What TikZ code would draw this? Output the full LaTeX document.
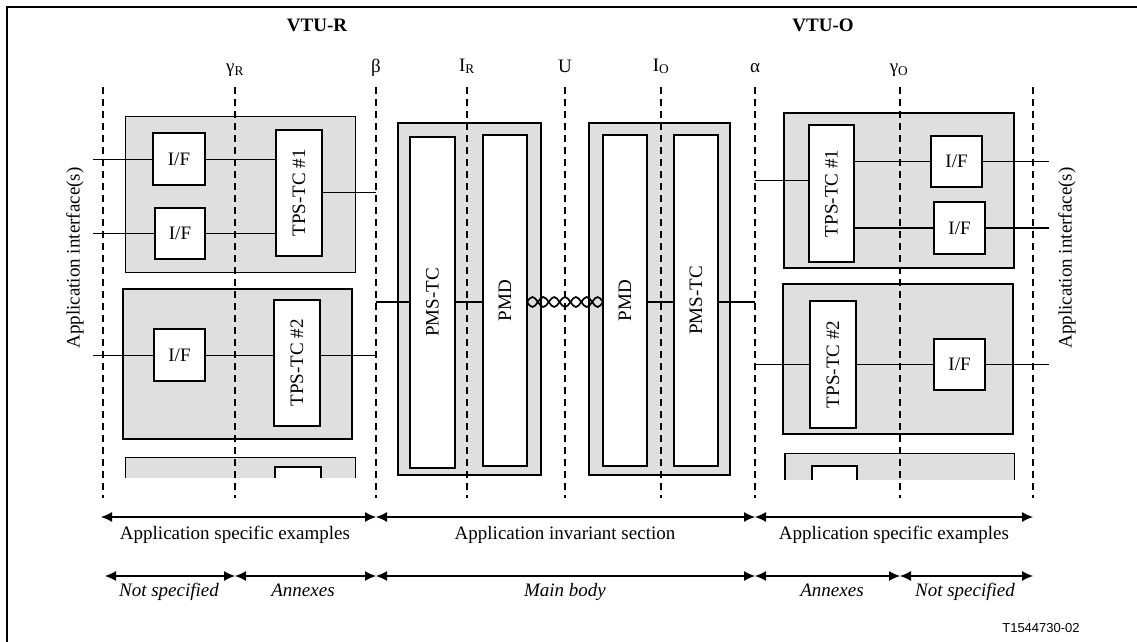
\documentclass[tikz,border=0pt]{standalone}
\usepackage{fontspec}
\setmainfont{Liberation Serif}
\newfontfamily\sansf{Liberation Sans}
\usetikzlibrary{arrows.meta}
\definecolor{boxgray}{HTML}{DFDFDF}
\newcommand\rbox[7]{\node[#1, minimum width={(#5)-(#3)}, minimum height={(#6)-(#4)}] (#2) at ({((#3)+(#5))/2},{((#4)+(#6))/2}) {#7};}
\begin{document}
\begin{tikzpicture}[x=1pt,y=-1pt,
  font=\fontsize{19}{21}\selectfont,
  gbox/.style={draw, fill=boxgray, line width=0.8pt, inner sep=0pt, outer sep=0pt},
  gboxthick/.style={gbox, line width=2.2pt},
  wbox/.style={draw, fill=white, line width=2.4pt, inner sep=0pt, outer sep=0pt},
  conn/.style={line width=0.9pt},
  bus/.style={line width=2.2pt},
  refline/.style={dash pattern=on 7pt off 5pt, line width=1.1pt},
  dim/.style={line width=1.1pt, {Latex[length=11pt,width=10pt]}-{Latex[length=11pt,width=10pt]}},
  lbl/.style={anchor=base, inner sep=0pt},
  rot/.style={rotate=90, inner sep=0pt}
]
\useasboundingbox (0,0) rectangle (1137,642);
% frame
\draw[line width=1.4pt] (7,642) -- (7,7) -- (1137,7);

% ---------- gray boxes ----------
\rbox{gbox}{gR1}{125}{116}{355}{272}{}
\rbox{gboxthick}{gR2}{123}{289}{352}{439}{}
\fill[boxgray] (125,457) rectangle (355,478);
\draw[conn] (125,478) -- (125,457) -- (355,457) -- (355,478);

\rbox{gboxthick}{outR}{398}{123}{541}{475}{}
\rbox{gboxthick}{outO}{589}{123}{730}{475}{}

\rbox{gboxthick}{gO1}{784}{113}{1014}{268}{}
\rbox{gboxthick}{gO2}{783}{284}{1013}{434}{}
\fill[boxgray] (785,453) rectangle (1014,480);
\draw[conn] (785,453) -- (1014,453) -- (1014,480);
\draw[line width=2.2pt] (785,480) -- (785,453);

% ---------- reference (dashed) lines ----------
\foreach \xx in {103,235,376,467,565,661,755,900,1033}
  \draw[refline] (\xx,87) -- (\xx,498);

% ---------- labels on top ----------
\node[lbl, font=\fontsize{19}{21}\selectfont\bfseries] (vtur) at (317,32) {VTU-R};
\node[lbl, font=\fontsize{19}{21}\selectfont\bfseries] (vtuo) at (823,32) {VTU-O};
\node[lbl] (gR) at (235,73) {γ\textsubscript{R}};
\node[lbl] (beta) at (376,73) {β};
\node[lbl] (IR) at (467,71) {I\textsubscript{R}};
\node[lbl] (U) at (565,73) {U};
\node[lbl] (IO) at (661,71) {I\textsubscript{O}};
\node[lbl] (alpha) at (755,73) {α};
\node[lbl] (gO) at (899,73) {γ\textsubscript{O}};

% ---------- VTU-R side ----------
\rbox{wbox}{ifR1}{153}{133}{205}{185}{I/F}
\rbox{wbox}{ifR2}{155}{208}{205}{259}{I/F}
\rbox{wbox}{tpsR1}{276}{130}{322}{256}{\rotatebox{90}{TPS-TC \#1}}
\rbox{wbox}{ifR3}{154}{329}{205}{381}{I/F}
\rbox{wbox}{tpsR2}{274}{300}{320}{426}{\rotatebox{90}{TPS-TC \#2}}
\fill[white] (275,467) rectangle (321,478);
\draw[line width=2.4pt] (275,478) -- (275,467) -- (321,467) -- (321,478);

\coordinate (inR1) at (93,159);
\coordinate (inR2) at (93,233.5);
\coordinate (inR3) at (93,355);
\coordinate (betaA) at (376,192);
\coordinate (betaB) at (376,355);
\coordinate (betaC) at (376,302);
\draw[conn] (inR1) -- (ifR1.west);
\draw[conn] (ifR1.east) -- (ifR1.east -| tpsR1.west);
\draw[conn] (inR2) -- (ifR2.west);
\draw[conn] (ifR2.east) -- (ifR2.east -| tpsR1.west);
\draw[conn] (tpsR1.east |- betaA) -- (betaA);
\draw[conn] (inR3) -- (ifR3.west);
\draw[conn] (ifR3.east) -- (ifR3.east -| tpsR2.west);
\draw[conn] (tpsR2.east |- betaB) -- (betaB);

% ---------- application invariant section ----------
\rbox{wbox}{pmstcR}{410}{137}{455}{468}{\rotatebox{90}{PMS-TC}}
\rbox{wbox}{pmdR}{483}{135}{527}{466}{\rotatebox{90}{PMD}}
\rbox{wbox}{pmdO}{603}{135}{647}{466}{\rotatebox{90}{PMD}}
\rbox{wbox}{pmstcO}{674}{135}{718}{466}{\rotatebox{90}{PMS-TC}}
\coordinate (alphaC) at (755,302);
\draw[bus] (betaC) -- (betaC -| pmstcR.west);
\draw[bus] (pmstcR.east |- betaC) -- (pmdR.west |- betaC);
\draw[bus] (pmdO.east |- betaC) -- (pmstcO.west |- betaC);
\draw[bus] (pmstcO.east |- betaC) -- (alphaC);
% twisted pair
\draw[line width=1.7pt] (pmdR.east |- betaC) \foreach \s in {1,-1,1,-1,1,-1,1} { sin ++(5.43,{-5*\s}) cos ++(5.43,{5*\s}) };
\draw[line width=1.7pt] (pmdR.east |- betaC) \foreach \s in {1,-1,1,-1,1,-1,1} { sin ++(5.43,{5*\s}) cos ++(5.43,{-5*\s}) };

% ---------- VTU-O side ----------
\rbox{wbox}{tpsO1}{809}{125}{854}{262}{\rotatebox{90}{TPS-TC \#1}}
\rbox{wbox}{ifO1}{931}{136}{982}{187}{I/F}
\rbox{wbox}{ifO2}{934}{202}{985}{254}{I/F}
\rbox{wbox}{tpsO2}{810}{301}{856}{428}{\rotatebox{90}{TPS-TC \#2}}
\rbox{wbox}{ifO3}{934}{339}{985}{390}{I/F}
\fill[white] (812,466) rectangle (857,480);
\draw[line width=2.4pt] (812,480) -- (812,466) -- (857,466) -- (857,480);

\coordinate (alphaA) at (755,180);
\coordinate (alphaB) at (755,364.5);
\coordinate (outO1) at (1049,161.5);
\coordinate (outO2) at (1049,228);
\coordinate (outO3) at (1049,364.5);
\draw[conn] (alphaA) -- (alphaA -| tpsO1.west);
\draw[conn] (tpsO1.east |- ifO1.west) -- (ifO1.west);
\draw[conn] (ifO1.east) -- (outO1);
\draw[bus] (tpsO1.east |- ifO2.west) -- (ifO2.west);
\draw[bus] (ifO2.east) -- (outO2);
\draw[conn] (alphaB) -- (tpsO2.west |- alphaB);
\draw[conn] (tpsO2.east |- alphaB) -- (ifO3.west);
\draw[conn] (ifO3.east) -- (outO3);

% ---------- application interface labels ----------
\node[rot] (aiL) at (75,258) {Application interface(s)};
\node[rot] (aiR) at (1067,258) {Application interface(s)};

% ---------- dimension rows ----------
\coordinate (r1a) at (101,517);
\coordinate (r1b) at (376,517);
\coordinate (r1c) at (755,517);
\coordinate (r1d) at (1033,517);
\draw[dim] (r1a) -- (r1b);
\draw[dim] (r1b) -- (r1c);
\draw[dim] (r1c) -- (r1d);
\node[lbl] (t1a) at (235,539) {Application specific examples};
\node[lbl] (t1b) at (565,539) {Application invariant section};
\node[lbl] (t1c) at (894,539) {Application specific examples};

\coordinate (r2a) at (105,576);
\coordinate (r2b) at (235,576);
\coordinate (r2c) at (376,576);
\coordinate (r2d) at (755,576);
\coordinate (r2e) at (900,576);
\coordinate (r2f) at (1033,576);
\draw[dim] (r2a) -- (r2b);
\draw[dim] (r2b) -- (r2c);
\draw[dim] (r2c) -- (r2d);
\draw[dim] (r2d) -- (r2e);
\draw[dim] (r2e) -- (r2f);
\node[lbl, font=\fontsize{19}{21}\selectfont\itshape] (t2a) at (169,596) {Not specified};
\node[lbl, font=\fontsize{19}{21}\selectfont\itshape] (t2b) at (303,596) {Annexes};
\node[lbl, font=\fontsize{19}{21}\selectfont\itshape] (t2c) at (565,596) {Main body};
\node[lbl, font=\fontsize{19}{21}\selectfont\itshape] (t2d) at (832,596) {Annexes};
\node[lbl, font=\fontsize{19}{21}\selectfont\itshape] (t2e) at (965,596) {Not specified};

\node[lbl, font=\sansf\fontsize{13}{15}\selectfont] (fig) at (1041,632) {T1544730-02};
\end{tikzpicture}
\end{document}
